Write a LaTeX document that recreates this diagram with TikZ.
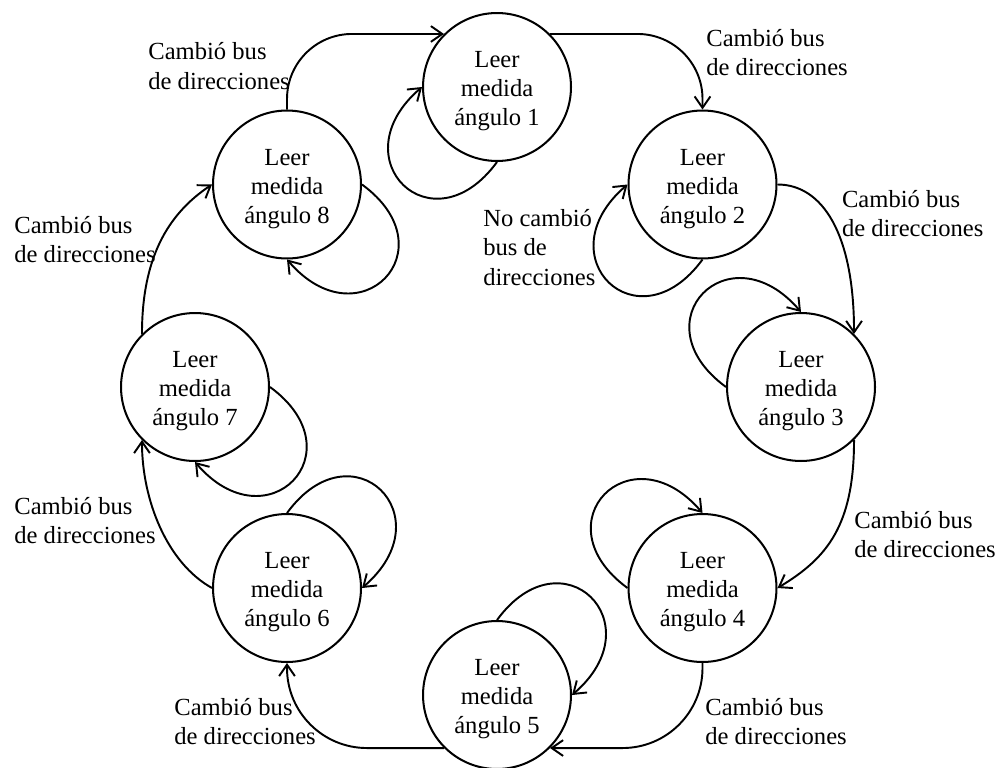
\documentclass[tikz,border=0pt]{standalone}
\usepackage{fontspec}
\setmainfont{Liberation Serif}
\usetikzlibrary{arrows.meta}
% three-line state caption; the strut in the first row lowers the block a little
\newcommand\statetext[1]{\begin{tabular}{@{}c@{}}\rule{0pt}{16pt}Leer\\medida\\ángulo #1\end{tabular}}
% left-aligned multi-line label whose base is the first line
\newcommand\lbllines[1]{\begin{tabular}[t]{@{}l@{}}#1\end{tabular}}
\begin{document}
\begin{tikzpicture}[x=0.02cm,y=-0.02cm,
  font=\fontsize{14pt}{16.6pt}\selectfont,
  state/.style={circle,draw,line width=1.15pt,minimum size=2.96cm,inner sep=0pt},
  lbl/.style={anchor=base west,inner sep=0pt},
  trans/.style={draw,line width=1.1pt,-{Straight Barb[length=6.5pt,width=9pt]}},
]
\useasboundingbox (0,0) rectangle (1006,767);

% states
\node[state] (s1) at (497,87)    {\statetext{1}};
\node[state] (s2) at (702.5,184.5) {\statetext{2}};
\node[state] (s3) at (801,387)   {\statetext{3}};
\node[state] (s4) at (702.5,588) {\statetext{4}};
\node[state] (s5) at (497,695)   {\statetext{5}};
\node[state] (s6) at (287,588)   {\statetext{6}};
\node[state] (s7) at (195,387)   {\statetext{7}};
\node[state] (s8) at (287,184.5) {\statetext{8}};

% transitions around the ring
\draw[trans,rounded corners=1.3cm] (s8.north) |- (s1.135);
\draw[trans,rounded corners=1.3cm] (s1.45) -| (s2.north);
\draw[trans] (s2.east) .. controls +(45,0) and +(0,-100) .. (s3.45);
\draw[trans] (s3.-45) .. controls +(0,85) and +(50,-30) .. (s4.east);
\draw[trans,rounded corners=1.6cm] (s4.south) |- (s5.-45);
\draw[trans,rounded corners=1.6cm] (s5.-135) -| (s6.south);
\draw[trans] (s6.west) .. controls +(-45,-25) and +(0,60) .. (s7.-135);
\draw[trans] (s7.135) .. controls +(0,-75) and +(-45,30) .. (s8.west);

% self-loops
\draw[trans] (s1.south) .. controls +(-65,89) and +(-84,72) .. (s1.west);
\draw[trans] (s2.south) .. controls +(-65,89) and +(-84,72) .. (s2.west);
\draw[trans] (s3.west) .. controls +(-89,-65) and +(-72,-84) .. (s3.north);
\draw[trans] (s4.west) .. controls +(-89,-65) and +(-72,-84) .. (s4.north);
\draw[trans] (s5.north) .. controls +(65,-89) and +(84,-72) .. (s5.east);
\draw[trans] (s6.north) .. controls +(65,-89) and +(84,-72) .. (s6.east);
\draw[trans] (s7.east) .. controls +(89,65) and +(72,84) .. (s7.south);
\draw[trans] (s8.east) .. controls +(89,65) and +(72,84) .. (s8.south);

% labels
\node[lbl] (l81) at (148,60)    {\lbllines{Cambió bus\\de direcciones}};
\node[lbl] (l12) at (706,46.7)  {\lbllines{Cambió bus\\de direcciones}};
\node[lbl] (l23) at (841.7,207.3) {\lbllines{Cambió bus\\de direcciones}};
\node[lbl] (l34) at (854,528.3) {\lbllines{Cambió bus\\de direcciones}};
\node[lbl] (l45) at (705,715)   {\lbllines{Cambió bus\\de direcciones}};
\node[lbl] (l56) at (174,715)   {\lbllines{Cambió bus\\de direcciones}};
\node[lbl] (l67) at (14,514)    {\lbllines{Cambió bus\\de direcciones}};
\node[lbl] (l78) at (14,233)    {\lbllines{Cambió bus\\de direcciones}};
\node[lbl] (lno) at (483,226.7) {\lbllines{No cambió\\bus de\\direcciones}};
\end{tikzpicture}
\end{document}
